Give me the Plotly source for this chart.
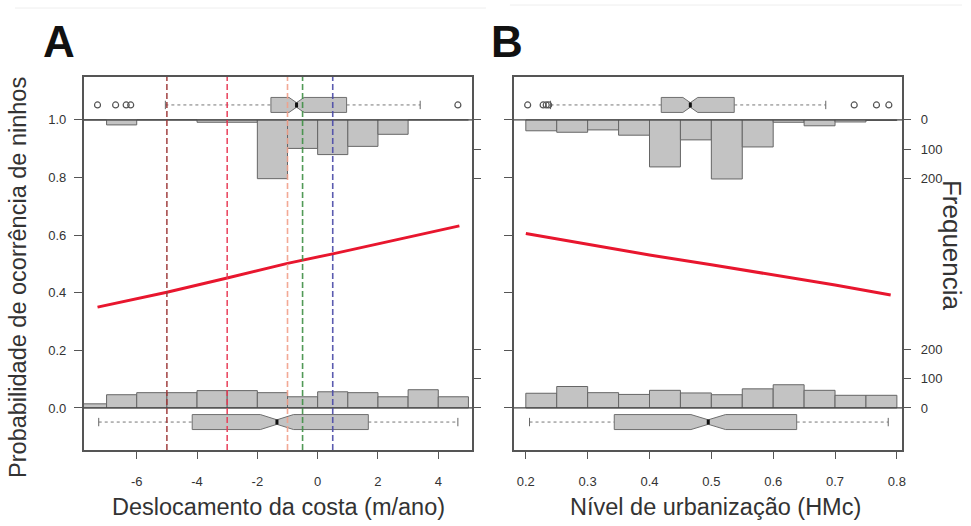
import plotly.graph_objects as go

# ---------------- data ----------------
# Panel A: shoreline displacement (m/ano)
coast_edges = [-8, -7, -6, -5, -4, -3, -2, -1, 0, 1, 2, 3, 4, 5]
coast_present_counts = [0, 17, 0, 0, 8, 8, 200, 97, 118, 90, 49, 0, 0]
coast_absent_counts = [14, 45, 52, 52, 59, 59, 52, 38, 55, 52, 38, 62, 38]
coast_fit_x = [-7.3, -5, -3, -1, 0.5, 4.7]
coast_fit_p = [0.350, 0.402, 0.451, 0.502, 0.535, 0.632]
coast_box_present = dict(lf=-5.05, q1=-1.55, med=-0.70, q3=0.96, uf=3.4, notch=0.25)
coast_out_present = [-7.3, -6.7, -6.35, -6.2, 4.65]
coast_box_absent = dict(lf=-7.26, q1=-4.16, med=-1.35, q3=1.68, uf=4.65, notch=0.55)
coast_out_absent = []
coast_vlines = [-5, -3, -1, -0.5, 0.5]
coast_vline_colors = ["#9e3a3a", "#e83a55", "#f2a08a", "#3f8f45", "#4a4aa8"]
coast_xticks = [-6, -4, -2, 0, 2, 4]

# Panel B: urbanization level (HMc)
urb_edges = [0.20, 0.25, 0.30, 0.35, 0.40, 0.45, 0.50, 0.55, 0.60, 0.65, 0.70, 0.75, 0.80]
urb_present_counts = [37, 42, 34, 52, 160, 68, 201, 92, 8, 20, 7, 2]
urb_absent_counts = [50, 73, 52, 46, 60, 51, 45, 65, 79, 60, 43, 43]
urb_fit_x = [0.2, 0.3, 0.4, 0.5, 0.6, 0.7, 0.79]
urb_fit_p = [0.606, 0.569, 0.531, 0.497, 0.462, 0.427, 0.392]
urb_box_present = dict(lf=0.240, q1=0.419, med=0.466, q3=0.537, uf=0.685, notch=0.012)
urb_out_present = [0.203, 0.228, 0.233, 0.237, 0.731, 0.767, 0.787]
urb_box_absent = dict(lf=0.206, q1=0.343, med=0.495, q3=0.638, uf=0.786, notch=0.028)
urb_out_absent = []
urb_xticks = [0.2, 0.3, 0.4, 0.5, 0.6, 0.7, 0.8]

prob_ticks = [0.0, 0.2, 0.4, 0.6, 0.8, 1.0]
prob_ticktext = ["0.0", "0.2", "0.4", "0.6", "0.8", "1.0"]
freq_ticks = [0, 100, 200]
FREQ_SCALE = 0.00102   # probability units per nest count (marginal histograms)

# ---------------- styling ----------------
W, H = 971, 526
FONT = "Liberation Sans, Arial, Helvetica, sans-serif"
AX_COL = "#555555"
BAR_FILL = "#c3c3c3"
BAR_LINE = "#666666"
FIT_COL = "#e8162e"
Y_RANGE = [-0.146, 1.149]
BOX_Y_TOP, BOX_Y_BOT, BOX_H = 1.052, -0.049, 0.052
TITLE_SIZE = 23.5


def px_x(p):
    return p / W


def px_y(p):
    return 1 - p / H


fig = go.Figure()


def add_panel(xa, ya, edges, present, absent, fit_x, fit_p, box_p, out_p, box_a, out_a):
    xref, yref = xa, ya
    centers = [(edges[i] + edges[i + 1]) / 2 for i in range(len(edges) - 1)]
    widths = [edges[i + 1] - edges[i] for i in range(len(edges) - 1)]
    # top histogram hanging from 1.0 (nests present)
    fig.add_trace(go.Bar(x=centers, y=[-c * FREQ_SCALE for c in present], base=1.0,
                         width=widths, marker=dict(color=BAR_FILL, line=dict(color=BAR_LINE, width=1)),
                         xaxis=xref, yaxis=yref, showlegend=False, hoverinfo="skip"))
    # bottom histogram standing on 0.0 (nests absent)
    fig.add_trace(go.Bar(x=centers, y=[c * FREQ_SCALE for c in absent], base=0.0,
                         width=widths, marker=dict(color=BAR_FILL, line=dict(color=BAR_LINE, width=1)),
                         xaxis=xref, yaxis=yref, showlegend=False, hoverinfo="skip"))
    # boxes
    for st, yy, outs in ((box_p, BOX_Y_TOP, out_p), (box_a, BOX_Y_BOT, out_a)):
        # dashed whiskers
        for a, b in ((st["lf"], st["q1"]), (st["q3"], st["uf"])):
            fig.add_trace(go.Scatter(x=[a, b], y=[yy, yy], mode="lines",
                                     line=dict(color="#777777", width=1, dash="3px,3px"),
                                     xaxis=xref, yaxis=yref, showlegend=False, hoverinfo="skip"))
        fig.add_trace(go.Scatter(x=[st["lf"], st["uf"]], y=[yy, yy], mode="markers",
                                 marker=dict(symbol="line-ns", size=6, line=dict(color="#666666", width=1)),
                                 xaxis=xref, yaxis=yref, showlegend=False, hoverinfo="skip"))
        fig.add_trace(go.Box(orientation="h", y=[yy], q1=[st["q1"]], median=[st["med"]], q3=[st["q3"]],
                             lowerfence=[st["q1"]], upperfence=[st["q3"]], notched=True,
                             notchspan=[st["notch"]], notchwidth=0.35, width=BOX_H, whiskerwidth=0,
                             fillcolor=BAR_FILL, line=dict(color="#6f6f6f", width=1),
                             boxpoints=False, xaxis=xref, yaxis=yref, showlegend=False, hoverinfo="skip"))
        # black median mark
        fig.add_trace(go.Scatter(x=[st["med"], st["med"]], y=[yy - BOX_H * 0.17, yy + BOX_H * 0.17],
                                 mode="lines", line=dict(color="#111111", width=3),
                                 xaxis=xref, yaxis=yref, showlegend=False, hoverinfo="skip"))
        if outs:
            fig.add_trace(go.Scatter(x=outs, y=[yy] * len(outs), mode="markers",
                                     marker=dict(symbol="circle-open", size=6, color="#555555",
                                                 line=dict(width=1.2)),
                                     xaxis=xref, yaxis=yref, showlegend=False, hoverinfo="skip"))
    # fitted logistic curve
    fig.add_trace(go.Scatter(x=fit_x, y=fit_p, mode="lines", line=dict(color=FIT_COL, width=3),
                             xaxis=xref, yaxis=yref, showlegend=False, hoverinfo="skip"))


add_panel("x", "y", coast_edges, coast_present_counts, coast_absent_counts, coast_fit_x, coast_fit_p,
          coast_box_present, coast_out_present, coast_box_absent, coast_out_absent)
add_panel("x2", "y2", urb_edges, urb_present_counts, urb_absent_counts, urb_fit_x, urb_fit_p,
          urb_box_present, urb_out_present, urb_box_absent, urb_out_absent)

# dummy traces to activate right-side frequency axes
fig.add_trace(go.Scatter(x=[0], y=[0], xaxis="x", yaxis="y3", mode="markers", opacity=0,
                         showlegend=False, hoverinfo="skip"))
fig.add_trace(go.Scatter(x=[0.5], y=[0], xaxis="x2", yaxis="y4", mode="markers", opacity=0,
                         showlegend=False, hoverinfo="skip"))

freq_vals = [f * FREQ_SCALE for f in freq_ticks] + [1.0 - f * FREQ_SCALE for f in freq_ticks]
freq_text = [str(f) for f in freq_ticks] * 2

dom_A = [px_x(84), px_x(474)]
dom_B = [px_x(516), px_x(906)]
dom_Y = [px_y(450), px_y(77)]

tickfont = dict(family=FONT, size=13, color="#333333")
common_x = dict(showgrid=False, zeroline=False, showline=True, mirror=True, linecolor=AX_COL,
                linewidth=1.5, ticks="outside", ticklen=7, tickwidth=1.2, tickcolor=AX_COL,
                tickfont=tickfont, ticklabelstandoff=12)
common_y = dict(showgrid=False, zeroline=False, showline=True, mirror=True, linecolor=AX_COL,
                linewidth=1.5, ticks="outside", ticklen=8, tickwidth=1.2, tickcolor=AX_COL,
                range=Y_RANGE, tickvals=prob_ticks, ticktext=prob_ticktext, tickfont=tickfont,
                ticklabelstandoff=5)

fig.update_layout(
    width=W, height=H, autosize=False,
    margin=dict(l=0, r=0, t=0, b=0),
    paper_bgcolor="white", plot_bgcolor="white",
    barmode="overlay", showlegend=False,
    font=dict(family=FONT, color="#333333"),
    xaxis=dict(domain=dom_A, range=[-7.76, 5.12], tickvals=coast_xticks,
               ticktext=[str(t) for t in coast_xticks], anchor="y", **common_x),
    xaxis2=dict(domain=dom_B, range=[0.1807, 0.8087], tickvals=urb_xticks,
                ticktext=[str(t) for t in urb_xticks], anchor="y2", **common_x),
    yaxis=dict(domain=dom_Y, anchor="x", showticklabels=True, **common_y),
    yaxis2=dict(domain=dom_Y, anchor="x2", showticklabels=False, **common_y),
    yaxis3=dict(domain=dom_Y, anchor="x", overlaying="y", side="right", range=Y_RANGE,
                tickvals=freq_vals, ticktext=freq_text, showticklabels=False, ticks="outside",
                ticklen=8, tickwidth=1.2, tickcolor=AX_COL, showgrid=False, zeroline=False,
                showline=False),
    yaxis4=dict(domain=dom_Y, anchor="x2", overlaying="y2", side="right", range=Y_RANGE,
                tickvals=freq_vals, ticktext=freq_text, showticklabels=True, ticks="outside",
                ticklen=8, tickwidth=1.2, tickcolor=AX_COL, showgrid=False, zeroline=False,
                showline=False, tickfont=tickfont, ticklabelstandoff=7),
)

# reference lines at 0 and 1 (extend through full panel width)
for xr, yr in (("x", "y"), ("x2", "y2")):
    for yv in (0.0, 1.0):
        fig.add_shape(type="line", xref=f"{xr} domain", yref=yr, x0=0, x1=1, y0=yv, y1=yv,
                      line=dict(color="#444444", width=1.3), layer="above")

# dashed vertical reference lines in panel A
for xv, col in zip(coast_vlines, coast_vline_colors):
    fig.add_shape(type="line", xref="x", yref="y domain", x0=xv, x1=xv, y0=0, y1=1,
                  line=dict(color=col, width=1.6, dash="6px,3px"), layer="above", opacity=0.9)

# faint frames of the original figure pieces
fig.add_shape(type="line", xref="paper", yref="paper", x0=px_x(15), x1=px_x(488), y0=px_y(8), y1=px_y(8),
              line=dict(color="#eeeeee", width=1))
fig.add_shape(type="line", xref="paper", yref="paper", x0=px_x(512), x1=px_x(966), y0=px_y(5), y1=px_y(5),
              line=dict(color="#eeeeee", width=1))

ann = [
    dict(text="<b>A</b>", x=px_x(59), y=px_y(41), font=dict(size=44, color="#111111")),
    dict(text="<b>B</b>", x=px_x(509), y=px_y(41), font=dict(size=44, color="#111111")),
    dict(text="Probabilidade de ocorrência de ninhos", x=px_x(18), y=px_y(277), textangle=-90,
         font=dict(size=TITLE_SIZE, color="#333333")),
    dict(text="Deslocamento da costa (m/ano)", x=px_x(280), y=px_y(507),
         font=dict(size=TITLE_SIZE, color="#333333")),
    dict(text="Nível de urbanização (HMc)", x=px_x(718), y=px_y(507),
         font=dict(size=TITLE_SIZE, color="#333333")),
    dict(text="Frequencia", x=px_x(956), y=px_y(245), textangle=90,
         font=dict(size=26, color="#333333")),
]
for a in ann:
    fig.add_annotation(xref="paper", yref="paper", showarrow=False, xanchor="center", yanchor="middle",
                       font_family=FONT, **{k: v for k, v in a.items()})

fig.write_html("out.html")
